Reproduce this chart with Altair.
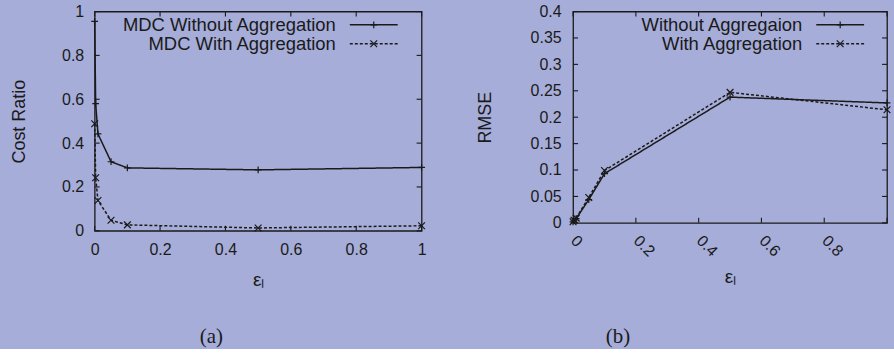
import altair as alt
import pandas as pd

# Privacy parameter values shared by both experiments
EPS = [0, 0.003, 0.01, 0.05, 0.1, 0.5, 1]

# (a) cost ratio
SERIES_A = ["MDC Without Aggregation", "MDC With Aggregation"]
COST_WITHOUT = [0.955, 0.58, 0.442, 0.315, 0.287, 0.278, 0.289]
COST_WITH = [0.488, 0.242, 0.138, 0.048, 0.027, 0.013, 0.023]

# (b) RMSE
SERIES_B = ["Without Aggregaion", "With Aggregation"]
RMSE_WITHOUT = [0.002, 0.004, 0.008, 0.044, 0.093, 0.238, 0.227]
RMSE_WITH = [0.002, 0.005, 0.009, 0.048, 0.099, 0.247, 0.214]

X_TICKS = [0, 0.2, 0.4, 0.6, 0.8, 1]
COST_TICKS = [0, 0.2, 0.4, 0.6, 0.8, 1]
RMSE_TICKS = [0, 0.05, 0.1, 0.15, 0.2, 0.25, 0.3, 0.35, 0.4]

BG = "#a6add9"
INK = "#1a1a1a"
FONT = "Liberation Sans"
SERIF = "Liberation Serif"
PLUS = "M-1,0L1,0M0,-1L0,1"
CROSS = "M-1,-1L1,1M-1,1L1,-1"
TICK = 5


def panel(names, without, with_, y_ticks, y_title, w, h, opts):
    n = len(EPS)
    df = pd.DataFrame({
        "eps": EPS * 2,
        "value": without + with_,
        "series": [names[0]] * n + [names[1]] * n,
    })

    x_axis = alt.Axis(
        values=X_TICKS, format="~g", title="εₗ", grid=False, ticks=False, domain=False,
        labelFont=FONT, labelFontSize=16, labelColor=INK, labelFlush=False,
        labelOverlap=False, labelPadding=opts["xlab_pad"],
        titleFont=FONT, titleFontSize=19, titleColor=INK, titleFontWeight="normal",
        titlePadding=opts["xtitle_pad"],
        **opts.get("xlab_extra", {}),
    )
    y_axis = alt.Axis(
        values=y_ticks, format="~g", title=y_title, grid=False, ticks=False, domain=False,
        labelFont=FONT, labelFontSize=16, labelColor=INK, labelOverlap=False,
        labelPadding=opts["ylab_pad"],
        titleFont=FONT, titleFontSize=18, titleColor=INK, titleFontWeight="normal",
        titlePadding=opts["ytitle_pad"],
    )
    x = alt.X("eps:Q", scale=alt.Scale(domain=[0, 1], nice=False, zero=False), axis=x_axis)
    y = alt.Y("value:Q", scale=alt.Scale(domain=[y_ticks[0], y_ticks[-1]], nice=False), axis=y_axis)
    dash = alt.StrokeDash("series:N", scale=alt.Scale(domain=names, range=[[1, 0], [3, 2]]), legend=None)
    shape = alt.Shape("series:N", scale=alt.Scale(domain=names, range=[PLUS, CROSS]), legend=None)

    base = alt.Chart(df)
    lines = base.mark_line(color=INK, strokeWidth=1.5).encode(x=x, y=y, strokeDash=dash)
    points = base.mark_point(color=INK, size=46, strokeWidth=1.2, filled=False, opacity=1).encode(
        x=x, y=y, shape=shape)

    # inward tick marks on all four sides of the frame
    xt = alt.Chart(pd.DataFrame({"eps": X_TICKS}))
    yt = alt.Chart(pd.DataFrame({"value": y_ticks}))
    tick_style = dict(color=INK, strokeWidth=1.1)
    ticks = [
        xt.mark_rule(**tick_style).encode(x=x, y=alt.value(h), y2=alt.value(h - TICK)),
        xt.mark_rule(**tick_style).encode(x=x, y=alt.value(0), y2=alt.value(TICK)),
        yt.mark_rule(**tick_style).encode(y=y, x=alt.value(0), x2=alt.value(TICK)),
        yt.mark_rule(**tick_style).encode(y=y, x=alt.value(w), x2=alt.value(w - TICK)),
    ]

    # key in the upper right: label, line sample, marker
    leg = (
        alt.Chart(pd.DataFrame({"series": names}))
        .transform_window(row="row_number()")
        .transform_calculate(ly=f"{opts['leg_y0']} + (datum.row - 1) * {opts['leg_dy']}")
    )
    ly = alt.Y("ly:Q", scale=None)
    leg_text = leg.mark_text(align="right", baseline="middle", font=FONT, fontSize=18.5, color=INK).encode(
        x=alt.value(opts["leg_text_x"]), y=ly, text="series:N")
    leg_line = leg.mark_rule(color=INK, strokeWidth=1.5).encode(
        x=alt.value(opts["leg_x0"]), x2=alt.value(opts["leg_x1"]), y=ly, strokeDash=dash)
    leg_pt = leg.mark_point(color=INK, size=46, strokeWidth=1.2, filled=False, opacity=1).encode(
        x=alt.value((opts["leg_x0"] + opts["leg_x1"]) / 2), y=ly, shape=shape)

    caption = alt.Chart(pd.DataFrame({"c": [opts["caption"]]})).mark_text(
        font=SERIF, fontSize=21, color=INK, baseline="middle", align="center"
    ).encode(x=alt.value(opts["cap_x"]), y=alt.value(opts["cap_y"]), text="c:N")

    return alt.layer(lines, points, *ticks, leg_line, leg_pt, leg_text, caption).properties(
        width=w, height=h)


chart_a = panel(
    SERIES_A, COST_WITHOUT, COST_WITH, COST_TICKS, "Cost Ratio", 328, 220,
    dict(xlab_pad=11, xtitle_pad=13, ylab_pad=11, ytitle_pad=33,
         leg_y0=13.3, leg_dy=19, leg_text_x=242, leg_x0=256, leg_x1=304,
         caption="(a)", cap_x=117, cap_y=327),
)

chart_b = panel(
    SERIES_B, RMSE_WITHOUT, RMSE_WITH, RMSE_TICKS, "RMSE", 315, 212,
    dict(xlab_pad=15, xtitle_pad=8, ylab_pad=12, ytitle_pad=36,
         xlab_extra=dict(labelAngle=45, labelAlign="left", labelBaseline="middle",
                         labelExpr="datum.value == 1 ? '' : datum.label"),
         leg_y0=13.3, leg_dy=19, leg_text_x=230, leg_x0=244, leg_x1=292,
         caption="(b)", cap_x=45, cap_y=327),
)

chart = (
    alt.hconcat(chart_a, chart_b, spacing=47)
    .properties(padding={"left": 10, "top": 2, "right": 0, "bottom": 0})
    .configure(background=BG)
    .configure_axis(labelOverlap=False)
    .configure_view(stroke=INK, strokeWidth=1.3)
)

chart.save("out.html", embed_options={"renderer": "svg", "actions": False})
